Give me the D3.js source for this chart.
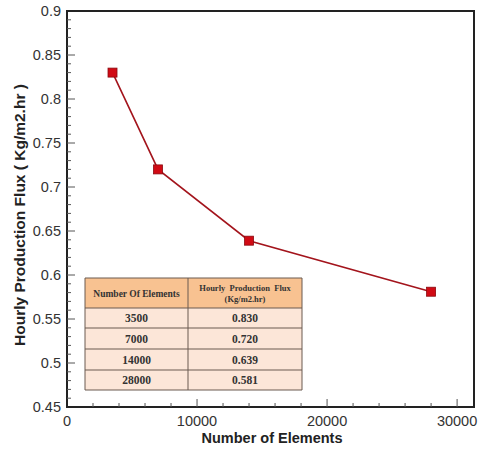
<!DOCTYPE html>
<html>
<head>
<meta charset="utf-8">
<script src="https://cdn.jsdelivr.net/npm/d3@7"></script>
<style>
  body { margin: 0; background: #fff; }
  svg { display: block; }
</style>
</head>
<body>
<div id="chart"></div>
<script>
// data
const elements = [3500, 7000, 14000, 28000];
const flux = [0.830, 0.720, 0.639, 0.581];
const xTicks = [0, 10000, 20000, 30000];
const yTicks = [0.45, 0.5, 0.55, 0.6, 0.65, 0.7, 0.75, 0.8, 0.85, 0.9];
const tableHeader = ["Number Of Elements", "Hourly  Production  Flux", "(Kg/m2.hr)"];
const tableFlux = ["0.830", "0.720", "0.639", "0.581"];

const W = 478, H = 450;
const svg = d3.select("#chart").append("svg").attr("width", W).attr("height", H);

const x = d3.scaleLinear().domain([0, 31300]).range([67, 474]);
const y = d3.scaleLinear().domain([0.45, 0.9]).range([407, 11]);

// frame
svg.append("rect")
    .attr("x", x(0)).attr("y", y(0.9))
    .attr("width", x(31300) - x(0)).attr("height", y(0.45) - y(0.9))
    .attr("fill", "none").attr("stroke", "#222").attr("stroke-width", 2);

// minor ticks
const xMinor = d3.range(0, 31300, 2000).filter(v => v % 10000 !== 0);
const yMinor = d3.range(45, 90, 1).map(v => v / 100).filter(v => Math.round(v * 100) % 5 !== 0);

const tickColor = "#555";
svg.append("g").selectAll("line").data(xMinor).join("line")
    .attr("x1", d => x(d)).attr("x2", d => x(d))
    .attr("y1", y(0.45)).attr("y2", y(0.45) - 4)
    .attr("stroke", tickColor).attr("stroke-width", 1);
svg.append("g").selectAll("line").data(xTicks.slice(1)).join("line")
    .attr("x1", d => x(d)).attr("x2", d => x(d))
    .attr("y1", y(0.45)).attr("y2", y(0.45) - 8)
    .attr("stroke", tickColor).attr("stroke-width", 1);
svg.append("g").selectAll("line").data(yMinor).join("line")
    .attr("x1", x(0)).attr("x2", x(0) + 4)
    .attr("y1", d => y(d)).attr("y2", d => y(d))
    .attr("stroke", tickColor).attr("stroke-width", 1);
svg.append("g").selectAll("line").data(yTicks.slice(1, -1)).join("line")
    .attr("x1", x(0)).attr("x2", x(0) + 8)
    .attr("y1", d => y(d)).attr("y2", d => y(d))
    .attr("stroke", tickColor).attr("stroke-width", 1);

// tick labels
const labelFont = "Liberation Sans, Arial, sans-serif";
svg.append("g").selectAll("text").data(xTicks).join("text")
    .attr("x", d => x(d)).attr("y", y(0.45) + 19)
    .attr("text-anchor", "middle")
    .attr("font-family", labelFont).attr("font-size", 14.5).attr("fill", "#333")
    .text(d => d);
svg.append("g").selectAll("text").data(yTicks).join("text")
    .attr("x", x(0) - 6).attr("y", d => y(d) + 5)
    .attr("text-anchor", "end")
    .attr("font-family", labelFont).attr("font-size", 14.5).attr("fill", "#333")
    .text(d => d);

// axis titles
svg.append("text")
    .attr("x", 272).attr("y", 443)
    .attr("text-anchor", "middle")
    .attr("font-family", labelFont).attr("font-size", 14.5).attr("font-weight", "bold").attr("fill", "#222")
    .text("Number of Elements");
svg.append("text")
    .attr("transform", "translate(25,215) rotate(-90)")
    .attr("text-anchor", "middle")
    .attr("font-family", labelFont).attr("font-size", 15.5).attr("font-weight", "bold").attr("fill", "#222")
    .text("Hourly Production Flux ( Kg/m2.hr )");

// table inset
const tx0 = 85, tx1 = 188, tx2 = 302;
const rowY = [278, 308, 328, 349, 370, 390];
const serif = "Liberation Serif, Times New Roman, serif";
const tbl = svg.append("g");
tbl.append("rect").attr("x", tx0).attr("y", rowY[0])
    .attr("width", tx2 - tx0).attr("height", rowY[1] - rowY[0]).attr("fill", "#f8c291");
tbl.append("rect").attr("x", tx0).attr("y", rowY[1])
    .attr("width", tx2 - tx0).attr("height", rowY[5] - rowY[1]).attr("fill", "#fce6d8");
tbl.selectAll("line.h").data(rowY).join("line")
    .attr("x1", tx0).attr("x2", tx2).attr("y1", d => d).attr("y2", d => d)
    .attr("stroke", "#6b5a50").attr("stroke-width", 1);
tbl.selectAll("line.v").data([tx0, tx1, tx2]).join("line")
    .attr("x1", d => d).attr("x2", d => d).attr("y1", rowY[0]).attr("y2", rowY[5])
    .attr("stroke", "#6b5a50").attr("stroke-width", 1);
tbl.append("text").attr("x", (tx0 + tx1) / 2).attr("y", 297)
    .attr("text-anchor", "middle").attr("font-family", serif).attr("font-weight", "bold")
    .attr("font-size", 9.5).attr("fill", "#333").text(tableHeader[0]);
tbl.append("text").attr("x", (tx1 + tx2) / 2).attr("y", 291)
    .attr("text-anchor", "middle").attr("font-family", serif).attr("font-weight", "bold")
    .attr("font-size", 8.5).attr("fill", "#333").attr("xml:space", "preserve").text(tableHeader[1]);
tbl.append("text").attr("x", (tx1 + tx2) / 2).attr("y", 302)
    .attr("text-anchor", "middle").attr("font-family", serif).attr("font-weight", "bold")
    .attr("font-size", 8.5).attr("fill", "#333").text(tableHeader[2]);
elements.forEach((e, i) => {
    const cy = (rowY[i + 1] + rowY[i + 2]) / 2 + 4;
    tbl.append("text").attr("x", (tx0 + tx1) / 2).attr("y", cy)
        .attr("text-anchor", "middle").attr("font-family", serif).attr("font-weight", "bold")
        .attr("font-size", 11.5).attr("fill", "#333").text(e);
    tbl.append("text").attr("x", (tx1 + tx2) / 2).attr("y", cy)
        .attr("text-anchor", "middle").attr("font-family", serif).attr("font-weight", "bold")
        .attr("font-size", 11.5).attr("fill", "#333").text(tableFlux[i]);
});

// series
const pts = elements.map((e, i) => [e, flux[i]]);
svg.append("path").datum(pts)
    .attr("fill", "none").attr("stroke", "#a3141c").attr("stroke-width", 1.6)
    .attr("d", d3.line().x(d => x(d[0])).y(d => y(d[1])));
svg.append("g").selectAll("rect").data(pts).join("rect")
    .attr("x", d => x(d[0]) - 4.5).attr("y", d => y(d[1]) - 4.5)
    .attr("width", 9).attr("height", 9)
    .attr("fill", "#d10a14").attr("stroke", "#8a0a10").attr("stroke-width", 0.8);
</script>
</body>
</html>
